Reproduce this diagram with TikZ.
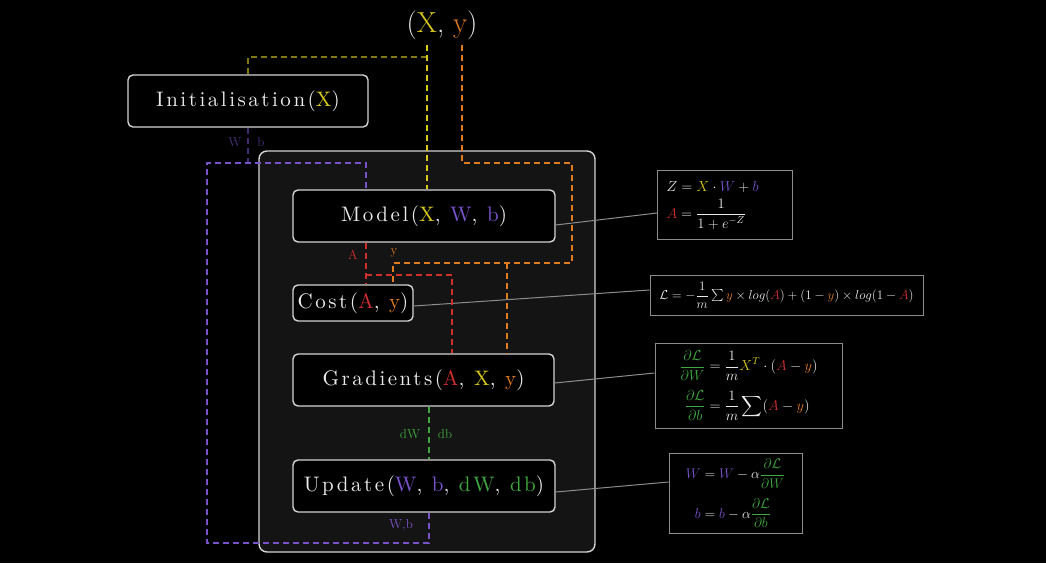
\RequirePackage{fix-cm}
\documentclass[tikz,border=0pt]{standalone}
\usepackage{amsmath}
\usepackage{fontspec}
\usetikzlibrary{calc}
\newfontfamily\lblfam{lmroman10-regular}[Extension=.otf, LetterSpace=12]
\definecolor{cyel}{HTML}{D8C81E}
\definecolor{cora}{HTML}{E07B1F}
\definecolor{cred}{HTML}{D0302C}
\definecolor{cpur}{HTML}{7852C8}
\definecolor{cgrn}{HTML}{3FA83F}
\definecolor{cbord}{HTML}{D4D4D4}
\definecolor{cframe}{HTML}{141414}
\definecolor{ctext}{HTML}{EAEAEA}
\definecolor{cconn}{HTML}{8C8C8C}
\newcommand\lblfnt{\lblfam\fontsize{21}{24}\selectfont}
\newcommand\smallfnt{\fontsize{13}{15}\selectfont}
\newcommand\fmfnt{\fontsize{14.5}{17}\selectfont}
\tikzset{
  lblbox/.style={draw=cbord, fill=black, rounded corners=5pt, line width=1.4pt, text=ctext, font=\lblfnt, inner sep=0pt},
  framebox/.style={draw=cbord, fill=cframe, rounded corners=8pt, line width=1.4pt},
  fmbox/.style={draw=cconn, fill=black, line width=0.9pt, text=ctext, font=\fmfnt, inner sep=0pt},
  dashline/.style={line width=1.5pt, dash pattern=on 6pt off 4pt},
  dy/.style={dashline, draw=cyel},
  do/.style={dashline, draw=cora},
  dr/.style={dashline, draw=cred},
  dp/.style={dashline, draw=cpur},
  dg/.style={dashline, draw=cgrn},
  conn/.style={draw=cconn, line width=1pt},
  smlbl/.style={font=\smallfnt, inner sep=0pt},
}
\begin{document}
\begin{tikzpicture}[x=1pt,y=-1pt]
\fill[black] (0,0) rectangle (1046,563);
\useasboundingbox (0,0) rectangle (1046,563);

% container
\node[framebox, minimum width=336pt, minimum height=401pt] (frame) at (427,351.5) {};

% title
\node[text=ctext, font=\fontsize{29}{32}\selectfont, inner sep=0pt] (xy) at (442,25) {(\textcolor{cyel}{X}, \textcolor{cora}{y})};
\coordinate (xtop) at (427,45);
\coordinate (ytop) at (462,45);

% boxes
\node[lblbox, minimum width=240pt, minimum height=52pt] (init) at (248,101) {Initialisation(\textcolor{cyel}{X})};
\node[lblbox, minimum width=262pt, minimum height=52pt] (model) at (424,216) {Model(\textcolor{cyel}{X}, \textcolor{cpur}{W}, \textcolor{cpur}{b})};
\node[lblbox, minimum width=120pt, minimum height=36pt] (cost) at (353,303) {Cost(\textcolor{cred}{A}, \textcolor{cora}{y})};
\node[lblbox, minimum width=261pt, minimum height=52pt] (grad) at (423.5,380) {Gradients(\textcolor{cred}{A}, \textcolor{cyel}{X}, \textcolor{cora}{y})};
\node[lblbox, minimum width=262pt, minimum height=52pt] (update) at (424,486) {Update(\textcolor{cpur}{W}, \textcolor{cpur}{b}, \textcolor{cgrn}{dW}, \textcolor{cgrn}{db})};

% formula boxes
\node[fmbox, minimum width=135pt, minimum height=69pt, text width=117pt, align=left, inner xsep=9pt] (f1) at (725,204.5) {$\begin{aligned}[t]
 &Z = \textcolor{cyel}{X}\cdot\textcolor{cpur}{W}+\textcolor{cpur}{b}\\[-2pt]
 &\textcolor{cred}{A} = \frac{1}{1+e^{-Z}}
 \end{aligned}$};
\node[fmbox, minimum width=273pt, minimum height=40pt] (f2) at (786.5,295) {\fontsize{13}{15}\selectfont$\mathcal{L} = -\dfrac{1}{m}\sum \textcolor{cora}{y}\times log(\textcolor{cred}{A}) + (1-\textcolor{cora}{y})\times log(1-\textcolor{cred}{A})$};
\node[fmbox, minimum width=187pt, minimum height=85pt] (f3) at (748.5,385.5) {$\begin{aligned}
 \textcolor{cgrn}{\frac{\partial\mathcal{L}}{\partial W}} &= \frac{1}{m}\textcolor{cyel}{X^{T}}\cdot(\textcolor{cred}{A}-\textcolor{cora}{y})\\[6pt]
 \textcolor{cgrn}{\frac{\partial\mathcal{L}}{\partial b}} &= \frac{1}{m}\sum(\textcolor{cred}{A}-\textcolor{cora}{y})
 \end{aligned}$};
\node[fmbox, minimum width=133pt, minimum height=80pt, font=\fontsize{14}{17}\selectfont] (f4) at (735.5,493.5) {$\begin{aligned}
 \textcolor{cpur}{W} &= \textcolor{cpur}{W}-\alpha\textcolor{cgrn}{\frac{\partial\mathcal{L}}{\partial W}}\\[7pt]
 \textcolor{cpur}{b} &= \textcolor{cpur}{b}-\alpha\textcolor{cgrn}{\frac{\partial\mathcal{L}}{\partial b}}
 \end{aligned}$};

% gray connectors
\draw[conn] ([yshift=-9pt]model.east) -- ([yshift=-8.5pt]f1.west);
\draw[conn] ([yshift=-3pt]cost.east) -- ([yshift=5pt]f2.west);
\draw[conn] ([yshift=-3pt]grad.east) -- ([yshift=12.5pt]f3.west);
\draw[conn] ([yshift=-6pt]update.east) -- ([yshift=11.5pt]f4.west);

% yellow
\coordinate (yj) at (427,57);
\draw[dy] (xtop) -- (xtop |- model.north);
\draw[dy, draw opacity=0.6] (yj) -| (init.north);

% orange
\coordinate (oa) at (572,163);
\coordinate (ob) at (572,263);
\coordinate (oc) at (393,263);
\coordinate (od) at (507,263);
\draw[do] (ytop) |- (oa) -- (ob) -- (oc) -- (oc |- cost.north);
\draw[do] (od) -- (od |- grad.north);
\node[smlbl, text=cora] (ylbl) at (394,253) {y};

% red
\coordinate (ra) at (366,275);
\coordinate (rb) at (452,275);
\draw[dr] (ra |- model.south) -- (ra |- cost.north);
\draw[dr] (ra) -- (rb) -- (rb |- grad.north);
\node[smlbl, text=cred] (albl) at (353,255) {A};

% purple
\coordinate (pj) at (248,163);
\coordinate (pa) at (429,543);
\coordinate (pb) at (207,543);
\coordinate (pc) at (207,163);
\coordinate (pd) at (366,163);
\draw[dp, draw opacity=0.55] (init.south) -- (pj);
\node[smlbl, text=cpur, text opacity=0.6] (wlbl) at (235,142) {W};
\node[smlbl, text=cpur, text opacity=0.6] (blbl) at (261,142) {b};
\draw[dp] (update.south -| pa) -- (pa) -- (pb) -- (pc) -- (pd) -- (pd |- model.north);
\node[smlbl, text=cpur] (wblbl) at (401,525) {W,b};

% green
\coordinate (ga) at (429,406);
\draw[dg] (grad.south -| ga) -- (update.north -| ga);
\node[smlbl, text=cgrn] (dwlbl) at (410,434) {dW};
\node[smlbl, text=cgrn] (dblbl) at (445,434) {db};
\end{tikzpicture}
\end{document}
